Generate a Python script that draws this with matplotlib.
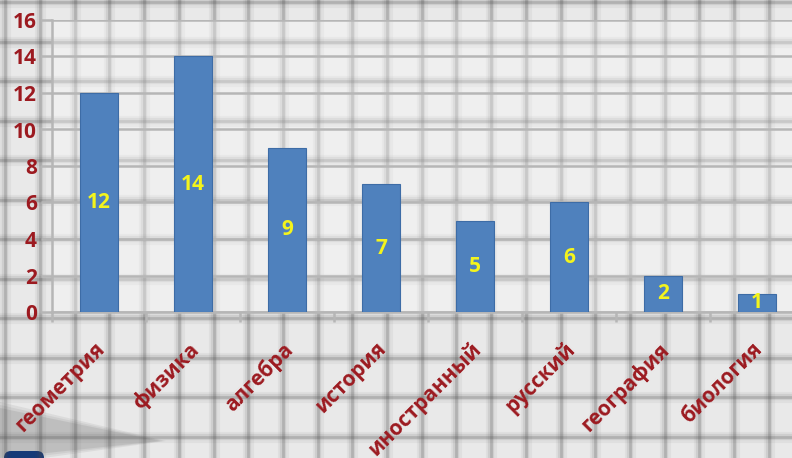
import numpy as np
import matplotlib.pyplot as plt
from matplotlib.patches import Polygon, FancyBboxPatch
from matplotlib.transforms import ScaledTranslation

subjects = ['геометрия', 'физика', 'алгебра', 'история',
            'иностранный', 'русский', 'география', 'биология']
counts = [12, 14, 9, 7, 5, 6, 2, 1]
y_ticks = [0, 2, 4, 6, 8, 10, 12, 14, 16]

plt.rcParams['font.family'] = ['Open Sans', 'DejaVu Sans']
plt.rcParams['font.weight'] = 'bold'

W, H = 792, 458
fig = plt.figure(figsize=(W / 100, H / 100), dpi=100)
fig.patch.set_facecolor('#e9e9e9')

# squared-paper background, in pixel coordinates
bg = fig.add_axes([0, 0, 1, 1], zorder=0)
bg.set_xlim(0, W)
bg.set_ylim(H, 0)
bg.axis('off')
for x in np.arange(40 - 2 * 34.7, W + 20, 34.7):
    for lw, a in [(8, 0.06), (4.5, 0.11), (2, 0.22)]:
        bg.axvline(x, color='#4a4a4a', lw=lw, alpha=a)
for y in np.arange(2, H + 20, 39.5):
    for lw, a in [(8, 0.06), (4.5, 0.11), (2, 0.22)]:
        bg.axhline(y, color='#4a4a4a', lw=lw, alpha=a)
for k, a in enumerate([0.08, 0.08, 0.1]):
    d = 6 - 3 * k
    bg.add_patch(Polygon([(0, 408 - d), (160 + d, 441), (0, 458 + d)],
                         closed=True, color='#3a3a3a', alpha=a, lw=0))
bg.add_patch(FancyBboxPatch((4, 451), 40, 20, boxstyle='round,pad=0,rounding_size=7',
                            color='#163a78', lw=0))

ax = fig.add_axes([52 / W, (H - 312) / H, 752 / W, 292 / H], zorder=1)
ax.set_facecolor((1, 1, 1, 0.3))
ax.set_xlim(-0.5, 7.5)
ax.set_ylim(0, 16)

x = np.arange(len(subjects))
ax.bar(x, counts, width=0.4, color='#4f81bd', edgecolor='#3d6ca6', lw=0.8, zorder=3)
for i, v in enumerate(counts):
    ax.text(i, v / 2, str(v), ha='center', va='center', color='#f4f41c',
            fontsize=15, fontweight='bold', zorder=4)

grey = '#b6b6b6'
red = '#9c1a20'
ax.set_yticks(y_ticks)
ax.yaxis.grid(True, color=grey, lw=1.8)
ax.set_axisbelow(True)
for s in ['top', 'right']:
    ax.spines[s].set_visible(False)
for s in ['left', 'bottom']:
    ax.spines[s].set_color(grey)
    ax.spines[s].set_linewidth(1.8)

ax.tick_params(axis='y', length=8, width=1.8, color=grey, labelcolor=red,
               labelsize=15, pad=3)
ax.set_xticks(x)
ax.set_xticklabels(subjects)
ax.set_xticks(np.arange(-0.5, 8, 1), minor=True)
ax.tick_params(axis='x', which='major', length=0, labelcolor=red, labelsize=15, pad=19)
ax.tick_params(axis='x', which='minor', length=7, width=1.8, color=grey)
shift = ScaledTranslation(-5 / 100, 0, fig.dpi_scale_trans)
for lbl in ax.get_xticklabels():
    lbl.set_rotation(45)
    lbl.set_rotation_mode('anchor')
    lbl.set_ha('right')
    lbl.set_va('top')
    lbl.set_transform(lbl.get_transform() + shift)

fig.savefig('out.png', dpi=100, facecolor=fig.get_facecolor())
